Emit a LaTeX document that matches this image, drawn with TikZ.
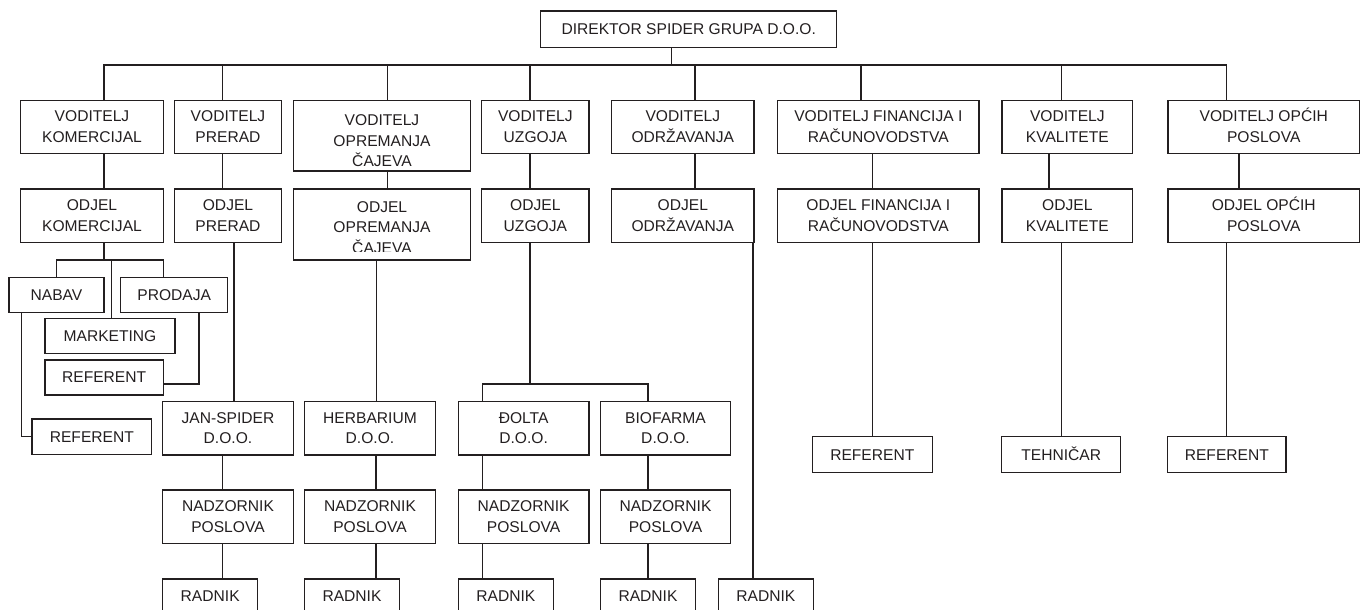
\documentclass[tikz,border=0pt]{standalone}
\usepackage{fontspec}
\setmainfont{Liberation Sans}
\definecolor{lc}{RGB}{35,31,32}
\newcommand\bx[6]{\node[box,minimum width={(#4-#2)*1pt},minimum height={(#5-#3)*1pt}] (#1) at ({(#2+#4)/2},{(#3+#5)/2}) {#6};}
\newcommand\vc[3]{\draw[conn] (#1,0 |- #2.south) -- (#1,0 |- #3.north);}
\begin{document}
\begin{tikzpicture}[x=1pt,y=-1pt,
  box/.style={draw=lc,line width=1.3pt,inner sep=0pt,align=center,text=lc,font=\fontsize{15.6}{20.5}\selectfont},
  btext/.style={inner sep=0pt,align=center,text=lc,font=\fontsize{15.6}{20.5}\selectfont},
  conn/.style={draw=lc,line width=1.3pt}]
\useasboundingbox (0,0) rectangle (1360,610);
\fill[white] (0,0) rectangle (1360,610);
% top
\bx{dir}{540.7}{11}{836.7}{47.3}{DIREKTOR SPIDER GRUPA D.O.O.}
% row 1
\bx{vk}{20.7}{100.3}{163.3}{153.3}{VODITELJ\\KOMERCIJAL}
\bx{vp}{174.3}{100.3}{281.7}{153.3}{VODITELJ\\PRERAD}
\bx{vop}{293.3}{100.3}{470.7}{171}{}
\begin{scope}
\clip (293.3,100.3) rectangle (470.7,166);
\node[btext] (vopt) at (382,141) {VODITELJ\\OPREMANJA\\ČAJEVA};
\end{scope}
\bx{vu}{481.7}{100.3}{589}{153.3}{VODITELJ\\UZGOJA}
\bx{vod}{611.7}{100.3}{754}{153.3}{VODITELJ\\ODRŽAVANJA}
\bx{vf}{777.7}{100.3}{979}{153.3}{VODITELJ FINANCIJA I\\RAČUNOVODSTVA}
\bx{vkv}{1002}{100.3}{1132.7}{153.3}{VODITELJ\\KVALITETE}
\bx{vo}{1168}{100.3}{1359.5}{153.3}{VODITELJ OP\smash{Ć}IH\\POSLOVA}
% row 2
\bx{ok}{20.7}{189}{163.3}{242.3}{ODJEL\\KOMERCIJAL}
\bx{op}{174.3}{189}{281.7}{242.3}{ODJEL\\PRERAD}
\bx{oop}{293.3}{189}{470.7}{260}{}
\begin{scope}
\clip (293.3,189) rectangle (470.7,251.7);
\node[btext] (oopt) at (382,227.3) {ODJEL\\OPREMANJA\\ČAJEVA};
\end{scope}
\bx{ou}{481.7}{189}{589}{242.3}{ODJEL\\UZGOJA}
\bx{ood}{611.7}{189}{754}{242.3}{ODJEL\\ODRŽAVANJA}
\bx{of}{777.7}{189}{979}{242.3}{ODJEL FINANCIJA I\\RAČUNOVODSTVA}
\bx{okv}{1002}{189}{1132.7}{242.3}{ODJEL\\KVALITETE}
\bx{oo}{1168}{189}{1359.5}{242.3}{ODJEL OP\smash{Ć}IH\\POSLOVA}
% commercial sub-units
\bx{nab}{9}{277.7}{104}{312.7}{NABAV}
\bx{pro}{120.7}{277.7}{227.7}{312.7}{PRODAJA}
\bx{mkt}{45}{318.3}{175}{353.3}{MARKETING}
\bx{ref1}{45}{360}{163.3}{395}{REFERENT}
\bx{ref2}{32}{419}{151.7}{454.3}{REFERENT}
% companies
\bx{jan}{162.7}{401.7}{293.3}{455}{JAN-SPIDER\\D.O.O.}
\bx{her}{304.7}{401.7}{435.3}{455}{HERBARIUM\\D.O.O.}
\bx{dol}{458.3}{401.7}{589}{455}{ĐOLTA\\D.O.O.}
\bx{bio}{600.3}{401.7}{730.7}{455}{BIOFARMA\\D.O.O.}
\bx{nz1}{162.7}{490}{293.3}{543.3}{NADZORNIK\\POSLOVA}
\bx{nz2}{304.7}{490}{435.3}{543.3}{NADZORNIK\\POSLOVA}
\bx{nz3}{458.3}{490}{589}{543.3}{NADZORNIK\\POSLOVA}
\bx{nz4}{600.3}{490}{730.7}{543.3}{NADZORNIK\\POSLOVA}
\bx{r1}{162.7}{579}{257.7}{614}{RADNIK}
\bx{r2}{304.7}{579}{399.3}{614}{RADNIK}
\bx{r3}{458.3}{579}{553.3}{614}{RADNIK}
\bx{r4}{600.3}{579}{695.7}{614}{RADNIK}
\bx{r5}{718.3}{579}{813.3}{614}{RADNIK}
% right bottom
\bx{rf}{812.3}{436.7}{932.3}{472.7}{REFERENT}
\bx{th}{1001.7}{436.7}{1120.7}{472.7}{TEHNI\smash{Č}AR}
\bx{ro}{1167.7}{436.7}{1286}{472.7}{REFERENT}
% connectors: top bar
\coordinate (bl) at (104,65);
\coordinate (br) at (1226.7,65);
\draw[conn] (104,0 |- vk.north) -- (bl) -- (br) -- (1226.7,0 |- vo.north);
\draw[conn] (671.7,0 |- dir.south) -- (671.7,0 |- bl);
\draw[conn] (222.7,0 |- bl) -- (222.7,0 |- vp.north);
\draw[conn] (387.7,0 |- bl) -- (387.7,0 |- vop.north);
\draw[conn] (530,0 |- bl) -- (530,0 |- vu.north);
\draw[conn] (695,0 |- bl) -- (695,0 |- vod.north);
\draw[conn] (861,0 |- bl) -- (861,0 |- vf.north);
\draw[conn] (1061.7,0 |- bl) -- (1061.7,0 |- vkv.north);
% row 1 to row 2
\vc{104}{vk}{ok}
\vc{222.7}{vp}{op}
\vc{387.7}{vop}{oop}
\vc{530}{vu}{ou}
\vc{695}{vod}{ood}
\vc{872.7}{vf}{of}
\vc{1049}{vkv}{okv}
\vc{1239}{vo}{oo}
% row 2 down
\vc{234}{op}{jan}
\vc{376.7}{oop}{her}
\vc{753}{ood}{r5}
\vc{872.7}{of}{rf}
\vc{1061.7}{okv}{th}
\vc{1226.7}{oo}{ro}
% uzgoja split
\coordinate (uj) at (530,384);
\draw[conn] (530,0 |- ou.south) -- (uj);
\draw[conn] (482.3,0 |- dol.north) -- (482.3,0 |- uj) -- (648,0 |- uj) -- (648,0 |- bio.north);
% company chains
\vc{222.3}{jan}{nz1}
\vc{222.3}{nz1}{r1}
\vc{376}{her}{nz2}
\vc{376}{nz2}{r2}
\vc{482.3}{dol}{nz3}
\vc{482.3}{nz3}{r3}
\vc{648}{bio}{nz4}
\vc{648}{nz4}{r4}
% commercial split
\coordinate (kj) at (104,260);
\draw[conn] (104,0 |- ok.south) -- (kj);
\draw[conn] (56.7,0 |- nab.north) -- (56.7,0 |- kj) -- (163.3,0 |- kj) -- (163.3,0 |- pro.north);
\draw[conn] (111.7,0 |- kj) -- (111.7,0 |- mkt.north);
\coordinate (pj) at (199,384);
\draw[conn] (199,0 |- pro.south) -- (pj) -- (ref1.east |- pj);
\draw[conn] (21.7,0 |- nab.south) |- (ref2.west);
\end{tikzpicture}
\end{document}
